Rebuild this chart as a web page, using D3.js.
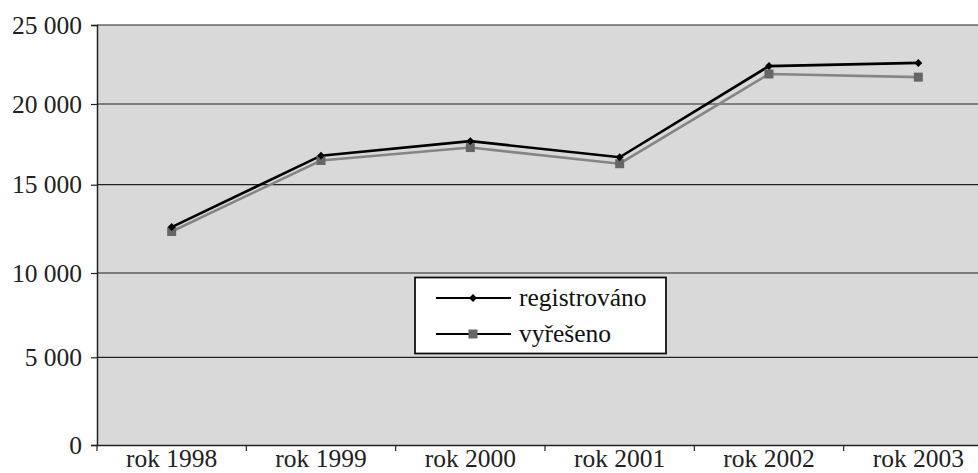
<!DOCTYPE html>
<html><head><meta charset="utf-8">
<script src="https://cdn.jsdelivr.net/npm/d3@7"></script>
<style>body{margin:0;background:#fff;overflow:hidden}</style>
</head><body>
<svg id="c" width="978" height="473" font-family="Liberation Serif"></svg>
<script>
const categories = ["rok 1998","rok 1999","rok 2000","rok 2001","rok 2002","rok 2003"];
const registrovano = [12600, 16800, 17700, 16700, 22400, 22600];
const vyreseno = [12350, 16500, 17300, 16300, 21900, 21700];
const yTicks = [0, 5000, 10000, 15000, 20000, 25000];
const yTickLabels = ["0","5 000","10 000","15 000","20 000","25 000"];
const seriesNames = ["registrováno","vyřešeno"];

const svg = d3.select("#c");
const left = 97, right = 993;
const FS = 25.5;
const setFont = sel => sel.attr("font-family", "Liberation Serif").attr("font-size", FS)
  .style("font-family", '"Liberation Serif"');

const x = d3.scaleBand().domain(categories).range([left, right]).padding(0);
// piecewise scale reproducing the reference's uneven gridline spacing
const y = d3.scaleLinear().domain(yTicks).range([445, 357.3, 273, 184.7, 104, 25]);

svg.append("rect").attr("x", left).attr("y", y(25000)).attr("width", right-left)
  .attr("height", y(0)-y(25000)).attr("fill", "#d9d9d9");

svg.append("g").selectAll("line").data(yTicks.filter(d=>d>0)).join("line")
  .attr("x1", left).attr("x2", right).attr("y1", d=>y(d)).attr("y2", d=>y(d))
  .attr("stroke", "#222").attr("stroke-width", 1.2);

const ya = svg.append("g").attr("transform", `translate(${left},0)`)
  .call(d3.axisLeft(y).tickValues(yTicks).tickFormat((d,i)=>yTickLabels[i]).tickSize(6).tickPadding(9));
ya.attr("font-family", null).attr("font-size", null);
ya.select(".domain").attr("stroke", "#222").attr("stroke-width", 1.5);
ya.selectAll(".tick line").attr("stroke", "#222").attr("stroke-width", 1.2);
ya.selectAll("text").call(setFont).attr("fill", "#222");

const xa = svg.append("g").attr("transform", `translate(0,${y(0)})`)
  .call(d3.axisBottom(x).tickSize(0).tickPadding(0));
xa.attr("font-family", null).attr("font-size", null);
xa.select(".domain").attr("stroke", "#222").attr("stroke-width", 1.5);
xa.selectAll(".tick text").call(setFont).attr("fill", "#222")
  .attr("dy", null).attr("y", 22);
svg.append("g").selectAll("line").data(categories).join("line")
  .attr("x1", d=>x(d)).attr("x2", d=>x(d)).attr("y1", y(0)).attr("y2", y(0)+6)
  .attr("stroke", "#222").attr("stroke-width", 1.2);

const cx = d => x(d) + x.bandwidth()/2;
const line = d3.line().x((d,i)=>cx(categories[i])).y(d=>y(d));

svg.append("path").datum(vyreseno).attr("d", line).attr("fill","none")
  .attr("stroke", "#858585").attr("stroke-width", 2.6);
svg.append("path").datum(registrovano).attr("d", line).attr("fill","none")
  .attr("stroke", "#000").attr("stroke-width", 2.6);

const sq = 9;
svg.append("g").selectAll("rect").data(vyreseno).join("rect")
  .attr("x", (d,i)=>cx(categories[i])-sq/2).attr("y", d=>y(d)-sq/2)
  .attr("width", sq).attr("height", sq).attr("fill", "#666");
const diamond = d3.symbol().type(d3.symbolDiamond2).size(40);
svg.append("g").selectAll("path").data(registrovano).join("path")
  .attr("transform", (d,i)=>`translate(${cx(categories[i])},${y(d)})`)
  .attr("d", diamond).attr("fill", "#000");

const lg = svg.append("g");
lg.append("rect").attr("x", 415).attr("y", 277.5).attr("width", 251).attr("height", 76)
  .attr("fill", "#fff").attr("stroke", "#111").attr("stroke-width", 1.8);
const rows = [298, 334];
seriesNames.forEach((name, i) => {
  const g = lg.append("g");
  g.append("line").attr("x1", 436).attr("x2", 511).attr("y1", rows[i]).attr("y2", rows[i])
    .attr("stroke", "#000").attr("stroke-width", 1.8);
  if (i === 0) {
    g.append("path").attr("transform", `translate(473,${rows[i]})`).attr("d", diamond).attr("fill", "#000");
  } else {
    g.append("rect").attr("x", 473-sq/2).attr("y", rows[i]-sq/2).attr("width", sq).attr("height", sq).attr("fill", "#666");
  }
  g.append("text").attr("x", 519).attr("y", rows[i]).attr("dy", "0.3em")
    .call(setFont).attr("fill", "#111").text(name);
});
</script>
</body></html>
